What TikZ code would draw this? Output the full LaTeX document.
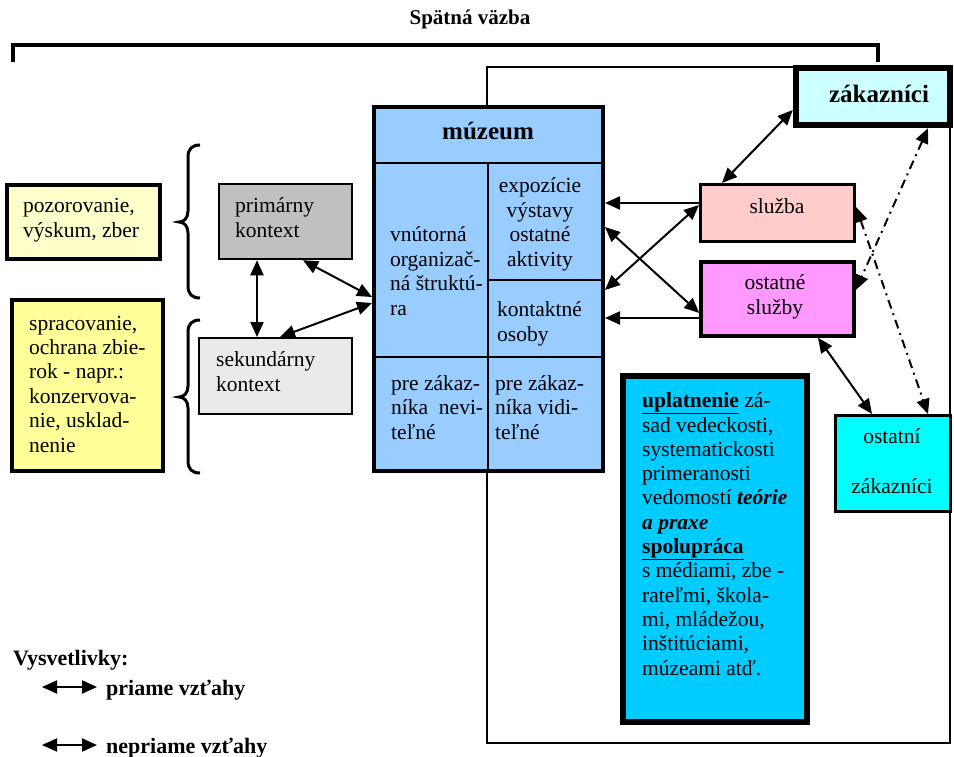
\documentclass[tikz,border=0pt]{standalone}
\usepackage{fontspec}
\setmainfont{Liberation Serif}
\usetikzlibrary{arrows.meta}
\newcommand{\fs}{\fontsize{21.5}{24.4}\selectfont}
\newcommand{\fb}{\fontsize{25}{28}\selectfont\bfseries}
\definecolor{cPoz}{HTML}{FFFFCC}
\definecolor{cSpr}{HTML}{FFFF99}
\definecolor{cPrim}{HTML}{C0C0C0}
\definecolor{cSek}{HTML}{EAEAEA}
\definecolor{cMus}{HTML}{99CCFF}
\definecolor{cZak}{HTML}{CCFFFF}
\definecolor{cSl}{HTML}{FFCCCC}
\definecolor{cOsl}{HTML}{FF99FF}
\definecolor{cOzk}{HTML}{00FFFF}
\definecolor{cUpl}{HTML}{00CCFF}
\begin{document}
\begin{tikzpicture}[x=1pt,y=-1pt,
  box/.style={draw, rectangle, inner sep=0pt},
  txt/.style={font=\fs, inner sep=0pt, anchor=base west, align=left},
  ctxt/.style={font=\fs, inner sep=0pt, anchor=base, align=center},
  dbl/.style={line width=2pt, {Triangle[length=15pt,width=13pt]}-{Triangle[length=15pt,width=13pt]}},
  sgl/.style={line width=2pt, -{Triangle[length=15pt,width=13pt]}},
  dd/.style={dbl, dash pattern=on 9pt off 5pt on 2pt off 5pt},
  inner/.style={line width=1.5pt}]
\useasboundingbox (0,0) rectangle (954,757);

% title and feedback bracket
\node[font=\fontsize{21}{24}\selectfont\bfseries, inner sep=0pt, anchor=base] (title) at (470,25) {Spätná väzba};
\draw[line width=4pt] (13,62) -- (13,45) -- (878,45) -- (878,62);

% outer frame
\node[draw, line width=1.5pt, minimum width=463pt, minimum height=676pt, inner sep=0pt] (frame) at (718.5,405) {};

% left boxes
\node[box, line width=3.5pt, fill=cPoz, minimum width=153pt, minimum height=74pt] (poz) at (83.5,222) {};
\node[box, line width=3.5pt, fill=cSpr, minimum width=151pt, minimum height=171pt] (spr) at (87.5,385.5) {};
\node[box, line width=2.5pt, fill=cPrim, minimum width=133pt, minimum height=75pt] (prim) at (285.5,221.5) {};
\node[box, line width=2pt, fill=cSek, minimum width=153pt, minimum height=76pt] (sek) at (275.5,376) {};

% braces
\draw[line width=3pt] (200,145) .. controls (192,145) and (188,149) .. (188,157) -- (188,211)
  .. controls (188,218) and (184,222) .. (179,222) .. controls (184,222) and (188,226) .. (188,233)
  -- (188,286) .. controls (188,294) and (192,298) .. (200,298);
\draw[line width=3pt] (200,320) .. controls (192,320) and (188,324) .. (188,332) -- (188,386)
  .. controls (188,393) and (184,397) .. (179,397) .. controls (184,397) and (188,401) .. (188,408)
  -- (188,461) .. controls (188,469) and (192,473) .. (200,473);

% museum
\node[box, line width=4pt, fill=cMus, minimum width=229pt, minimum height=364pt] (mus) at (488.5,289) {};
\draw[inner] (374,163) -- (603,163);
\draw[inner] (488,163) -- (488,471);
\draw[inner] (488,280) -- (603,280);
\draw[inner] (374,357) -- (603,357);

% right boxes
\node[box, line width=6.5pt, fill=cZak, minimum width=154pt, minimum height=57pt] (zak) at (873,96.5) {};
\node[box, line width=3pt, fill=cSl, minimum width=154pt, minimum height=57pt] (sl) at (777.5,213) {};
\node[box, line width=3.5pt, fill=cOsl, minimum width=153pt, minimum height=74pt] (osl) at (777.5,299) {};
\node[box, line width=3pt, fill=cOzk, minimum width=115pt, minimum height=96pt] (ozk) at (893,463.5) {};
\node[box, line width=6pt, fill=cUpl, minimum width=184pt, minimum height=346pt] (upl) at (715,549) {};

% connectors left
\draw[dbl] ([xshift=-28.5pt]prim.south) -- ([xshift=-18.5pt]sek.north);
\draw[dbl] ([xshift=17.5pt]prim.south) -- ([yshift=-8pt]mus.west);
\draw[dbl] ([xshift=4.5pt]sek.north) -- ([yshift=-14pt]mus.west);

% connectors right
\draw[dbl] ([yshift=-13.5pt]zak.west) -- ([xshift=-55.5pt]sl.north);
\draw[sgl] ([yshift=10pt]sl.west) -- ([yshift=86pt]mus.east);
\draw[sgl] ([yshift=-19pt]osl.west) -- ([yshift=-29pt]mus.east);
\draw[dbl] ([yshift=8pt]sl.west) -- ([yshift=-1pt]mus.east);
\draw[dbl] ([yshift=62pt]mus.east) -- ([yshift=-14pt]osl.west);
\draw[dbl] ([xshift=40.5pt]osl.south) -- ([xshift=-21pt]ozk.north);
\draw[dd] ([xshift=55pt]zak.south) -- ([yshift=9pt]osl.east);
\draw[dd] ([yshift=6pt]sl.east) -- ([xshift=35pt]ozk.north);

% texts (base anchor = baseline of the last line)
\node[txt] (tpoz) at (23,237) {pozorovanie,\\výskum, zber};
\node[txt] (tspr) at (29,452) {spracovanie,\\ochrana zbie-\\rok - napr.:\\konzervova-\\nie, usklad-\\nenie};
\node[txt] (tprim) at (235,237) {primárny\\kontext};
\node[txt] (tsek) at (216,391) {sekundárny\\kontext};
\node[font=\fb, inner sep=0pt, anchor=base] (tmus) at (488,140) {múzeum};
\node[txt] (tvn) at (390,315) {vnútorná\\organizač-\\ná štruktú-\\ra};
\node[ctxt] (texp) at (540,266) {expozície\\výstavy\\ostatné\\aktivity};
\node[txt] (tkon) at (497,341) {kontaktné\\osoby};
\node[txt] (tnev) at (391,439) {pre zákaz-\\níka\ \ nevi-\\teľné};
\node[txt] (tvid) at (495,439) {pre zákaz-\\níka vidi-\\teľné};
\node[font=\fb, inner sep=0pt, anchor=base] (tzak) at (879,103) {zákazníci};
\node[ctxt] (tsl) at (777,214) {služba};
\node[ctxt] (tosl) at (775,314) {ostatné\\služby};
\node[ctxt] (tozk) at (892,493) {ostatní\\[25.6pt]zákazníci};
\node[txt, font=\fontsize{21.5}{24.3}\selectfont] (tupl) at (642,675) {\underline{\textbf{uplatnenie}} zá-\\sad vedeckosti,\\systematickosti\\primeranosti\\vedomostí \textbf{\textit{teórie}}\\\textbf{\textit{a praxe}}\\\underline{\textbf{spolupráca}}\\s médiami, zbe -\\rateľmi, škola-\\mi, mládežou,\\inštitúciami,\\múzeami atď.};

% legend
\node[font=\fontsize{22}{24}\selectfont\bfseries, inner sep=0pt, anchor=base west] (lgt) at (13,665) {Vysvetlivky:};
\coordinate (lg1a) at (42,687);
\coordinate (lg1b) at (97,687);
\coordinate (lg2a) at (42,745);
\coordinate (lg2b) at (97,745);
\draw[dbl] (lg1a) -- (lg1b);
\draw[dbl] (lg2a) -- (lg2b);
\node[font=\fontsize{22}{24}\selectfont\bfseries, inner sep=0pt, anchor=base west] (lg1) at (106,695) {priame vzťahy};
\node[font=\fontsize{22}{24}\selectfont\bfseries, inner sep=0pt, anchor=base west] (lg2) at (106,753) {nepriame vzťahy};
\end{tikzpicture}
\end{document}
